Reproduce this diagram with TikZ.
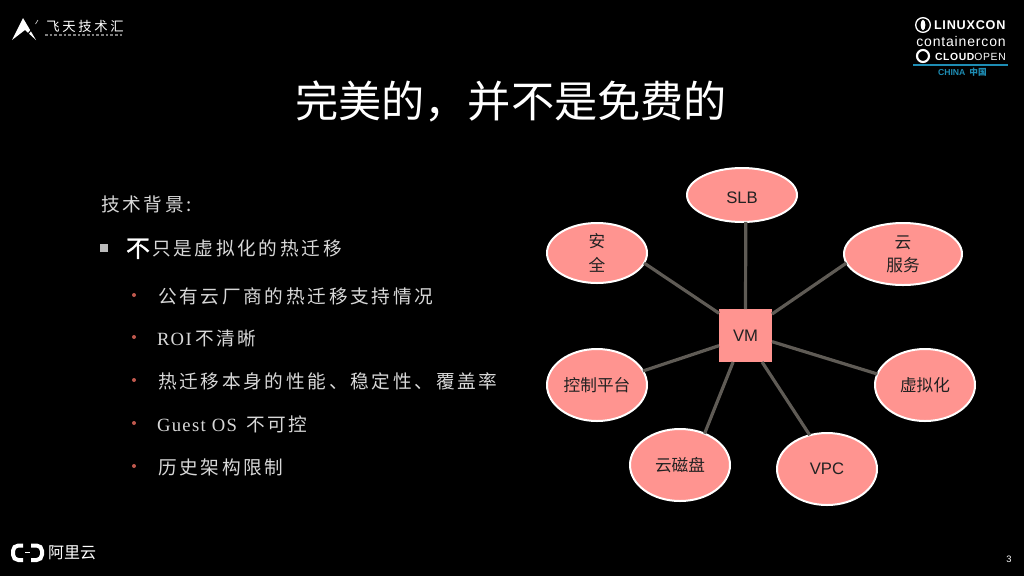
\documentclass[tikz,border=0pt]{standalone}
\usepackage{fontspec}
\usetikzlibrary{shapes.geometric}
\setmainfont{Liberation Sans}
\newfontfamily\cjk{Noto Sans CJK SC}
\newfontfamily\cjksp[LetterSpace=14.6]{Noto Sans CJK SC}
\newfontfamily\cjkwide[LetterSpace=20]{Noto Sans CJK SC}
\newfontfamily\cjkbold[FakeBold=1.2]{Noto Sans CJK SC}
\newfontfamily\sersp[LetterSpace=7]{Liberation Serif}
\newfontfamily\logofont[LetterSpace=6]{Liberation Sans}
\newfontfamily\latinfont{Liberation Sans}
\definecolor{bubble}{HTML}{FF9490}
\definecolor{spoke}{HTML}{5F5B55}
\definecolor{ink}{HTML}{222222}
\definecolor{bodytext}{HTML}{D8D8D8}
\definecolor{dotred}{HTML}{C0594E}
\definecolor{squaregray}{HTML}{BBBBBB}
\definecolor{linuxblue}{HTML}{1E8DB4}
\tikzset{
  x=0.75pt,y=-0.75pt,
  bub/.style={ellipse,fill=bubble,draw=white,line width=1.5pt,inner sep=0pt,outer sep=0pt,text=ink,align=center,font=\fontsize{12.5}{17.5}\selectfont\cjk},
  bublatin/.style={bub,font=\fontsize{12.5}{17.5}\selectfont\latinfont},
  vmbox/.style={rectangle,fill=bubble,inner sep=0pt,outer sep=0pt,minimum width=39.75pt,minimum height=39.75pt,text=ink,font=\fontsize{12.5}{15}\selectfont\latinfont},
  spokeline/.style={draw=spoke,line width=2.4pt},
  body/.style={anchor=base west,inner sep=0pt,outer sep=0pt,text=bodytext,font=\fontsize{14}{16}\selectfont\cjksp},
  dotb/.style={circle,fill=dotred,inner sep=0pt,minimum size=3pt},
  logow/.style={inner sep=0pt,outer sep=0pt,text=white},
}
\begin{document}
\begin{tikzpicture}
\fill[black] (0,0) rectangle (1024,576);
\useasboundingbox (0,0) rectangle (1024,576);

% title
\node[anchor=center,inner sep=0pt,text=white,font=\fontsize{32.4}{36}\selectfont\cjk] (title) at (511,101) {完美的，并不是免费的};

% body text
\node[body] (t0) at (101,211) {技术背景:};
\node[rectangle,fill=squaregray,inner sep=0pt,minimum size=6pt] (sq) at (103.5,248) {};
\node[body,text=white,font=\fontsize{18}{20}\selectfont\cjkbold] (t1a) at (126,257) {不};
\node[body] (t1) at (152,255) {只是虚拟化的热迁移};
\node[dotb] (d1) at (134,295) {};
\node[body] (t2) at (158,303) {公有云厂商的热迁移支持情况};
\node[dotb] (d2) at (134,337) {};
\node[body] (t3) at (157,345) {{\sersp ROI}\hspace{2.5pt}不清晰};
\node[dotb] (d3) at (134,380) {};
\node[body] (t4) at (158,388) {热迁移本身的性能、稳定性、覆盖率};
\node[dotb] (d4) at (134,423) {};
\node[body] (t5) at (157,431) {{\sersp Guest OS }\hspace{2.5pt}不可控};
\node[dotb] (d5) at (134,466) {};
\node[body] (t6) at (158,474) {历史架构限制};

% diagram
\node[vmbox] (vm) at (745.5,335.5) {VM};
\node[bublatin,minimum width=82.5pt,minimum height=40.5pt] (slb) at (742,195) {\raisebox{-1.5pt}[9pt][0pt]{SLB}};
\node[bub,minimum width=75pt,minimum height=45pt] (sec) at (597,253) {安\\全};
\node[bub,minimum width=88.5pt,minimum height=46.5pt] (svc) at (903,254) {云\\服务};
\node[bub,minimum width=75pt,minimum height=54pt] (ctl) at (597,385) {控制平台};
\node[bub,minimum width=75pt,minimum height=54pt] (virt) at (925,385) {虚拟化};
\node[bub,minimum width=75pt,minimum height=54pt] (disk) at (680,465) {云磁盘};
\node[bublatin,minimum width=75pt,minimum height=54pt] (vpc) at (827,469) {VPC};

\draw[spokeline] (vm.90) -- (slb.-82.6);
\draw[spokeline] (vm.140.3) -- (sec.-12.9);
\draw[spokeline] (vm.39) -- (svc.189.8);
\draw[spokeline] (vm.-13.8) -- (virt.167);
\draw[spokeline] (vm.-58) -- (vpc.117.9);
\draw[spokeline] (vm.-115) -- (disk.52.9);
\draw[spokeline] (vm.201.6) -- (ctl.17.4);

% logo top left
\fill[white] (12,40) -- (23,18) -- (36,40) -- (25,30) -- cycle;
\draw[black,line width=0.8pt] (38,21) -- (28,34);
\draw[white!80!black,line width=0.5pt] (38,20) -- (35.5,24);
\node[logow,anchor=center,font=\fontsize{10}{12}\selectfont\cjkwide] (feitian) at (85,26) {飞天技术汇};
\draw[gray,line width=0.8pt,dash pattern=on 2pt off 1.5pt] (45,35) -- (123,35);

% logo top right
\node[circle,draw=white,line width=1pt,inner sep=0pt,minimum size=11pt] (lx) at (923,25) {};
\node[ellipse,fill=white,inner sep=0pt,minimum width=3.5pt,minimum height=8pt] (lxin) at (923,25) {};
\node[logow,anchor=west,font=\fontsize{9.5}{10}\selectfont\bfseries\logofont] (linuxcon) at (934,25.5) {LINUXCON};
\node[logow,anchor=center,font=\fontsize{10.5}{12}\selectfont\logofont] (container) at (961,41) {containercon};
\node[circle,draw=white,line width=1.6pt,inner sep=0pt,minimum size=9pt] (cl) at (923,56) {};
\node[logow,anchor=west,font=\fontsize{7.8}{10}\selectfont\logofont] (cloud) at (935,56.5) {{\bfseries CLOUD}OPEN};
\coordinate (ruleL) at (913,65);
\coordinate (ruleR) at (1008,65);
\draw[linuxblue,line width=0.8pt] (ruleL) -- (ruleR);
\node[logow,anchor=west,text=linuxblue,font=\fontsize{6.5}{7}\selectfont\bfseries] (china) at (938,72) {CHINA\hspace{3pt}{\cjk 中国}};

% logo bottom left
\draw[white,line width=3pt,rounded corners=4pt] (23,545.5) -- (13,545.5) -- (13,560) -- (23,560);
\draw[white,line width=3pt,rounded corners=4pt] (31,545.5) -- (42,545.5) -- (42,560) -- (31,560);
\draw[white,line width=0.8pt] (25,552.5) -- (30,552.5);
\node[logow,anchor=center,font=\fontsize{12}{13}\selectfont\cjk] (ali) at (72,553) {阿里云};

% page number
\node[anchor=center,inner sep=0pt,text=white,font=\fontsize{7}{8}\selectfont] (pg) at (1009,559) {3};
\end{tikzpicture}
\end{document}
